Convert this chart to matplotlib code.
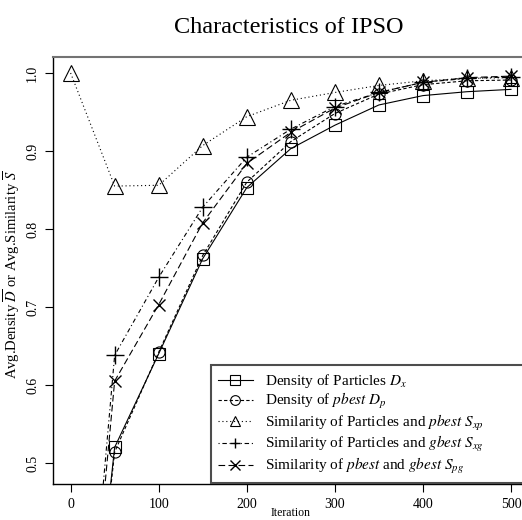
import matplotlib
matplotlib.use("Agg")
import matplotlib.pyplot as plt

plt.rcParams['font.family'] = ['Liberation Serif', 'DejaVu Serif']
plt.rcParams['mathtext.fontset'] = 'stix'

# iterations and averaged measures
iterations = [0, 50, 100, 150, 200, 250, 300, 350, 400, 450, 500]
density_x = [0.0, 0.520, 0.640, 0.762, 0.853, 0.903, 0.933, 0.959, 0.971, 0.976, 0.979]
density_p = [0.0, 0.514, 0.642, 0.766, 0.860, 0.912, 0.948, 0.973, 0.985, 0.990, 0.991]
sim_xp = [1.0, 0.855, 0.856, 0.907, 0.944, 0.965, 0.975, 0.984, 0.990, 0.993, 0.994]
sim_xg = [0.0, 0.638, 0.738, 0.828, 0.892, 0.928, 0.957, 0.975, 0.988, 0.993, 0.995]
sim_pg = [0.0, 0.605, 0.703, 0.808, 0.884, 0.924, 0.955, 0.975, 0.988, 0.994, 0.996]

labels = [
    "Density of Particles $D_x$",
    "Density of $pbest$ $D_p$",
    "Similarity of Particles and $pbest$ $S_{xp}$",
    "Similarity of Particles and $gbest$ $S_{xg}$",
    "Similarity of $pbest$ and $gbest$ $S_{pg}$",
]

fig = plt.figure(figsize=(5.22, 5.20), dpi=100)
ax = fig.add_axes([53 / 522, 36 / 520, 475.6 / 522, 427 / 520])

lw = 0.8
ax.plot(iterations, density_x, color='black', lw=lw, ls='-', marker='s', ms=8.5,
        mfc='none', mew=0.8, label=labels[0])
ax.plot(iterations, density_p, color='black', lw=lw, ls=(0, (3, 2)), marker='o', ms=8,
        mfc='none', mew=0.8, label=labels[1])
ax.plot(iterations, sim_xp, color='black', lw=lw, ls=(0, (1, 2.5)), marker='^', ms=11,
        mfc='none', mew=0.8, label=labels[2])
ax.plot(iterations, sim_xg, color='black', lw=lw, ls=(0, (1, 2.5, 4, 2.5)), marker='+', ms=13,
        mew=1.0, label=labels[3])
ax.plot(iterations, sim_pg, color='black', lw=lw, ls=(0, (6, 3)), marker='x', ms=9,
        mew=1.0, label=labels[4])

ax.set_xlim(-20, 520)
ax.set_ylim(0.473, 1.0205)
ax.set_xticks([0, 100, 200, 300, 400, 500])
ax.set_yticks([0.5, 0.6, 0.7, 0.8, 0.9, 1.0])
ax.set_yticklabels(['0.5', '0.6', '0.7', '0.8', '0.9', '1.0'], rotation=90, va='center')
ax.tick_params(direction='out', length=6, width=0.8, labelsize=10, colors='black', pad=4)

ax.spines['top'].set_color('0.45')
ax.spines['top'].set_linewidth(1.5)
ax.spines['left'].set_linewidth(1.0)
ax.spines['bottom'].set_linewidth(1.0)

ax.set_xlabel("Iteration", fontsize=8.5)
ax.xaxis.label.set_va('top')
ax.xaxis.set_label_coords(0.5, -23 / 427)
ax.set_ylabel(r"Avg.Density $\overline{D}$ or Avg.Similarity $\overline{S}$", fontsize=10.5)
ax.yaxis.label.set_va('center')
ax.yaxis.set_label_coords(-41 / 475.6, 0.49)

fig.text(0.554, 0.937, "Characteristics of IPSO", fontsize=17.5, ha='center', va='baseline')

leg = ax.legend(loc='upper left', bbox_to_anchor=(211 / 522, 155 / 520, 0.70, 0.0),
                bbox_transform=fig.transFigure, mode='expand', fontsize=11,
                handlelength=2.3, handletextpad=0.8, labelspacing=0.1,
                borderaxespad=0, borderpad=0.45, fancybox=False, framealpha=1,
                edgecolor='0.3', numpoints=1)
leg.get_frame().set_linewidth(1.5)
for h in leg.legend_handles:
    h.set_markersize(7)

fig.savefig("out.png", dpi=100)
